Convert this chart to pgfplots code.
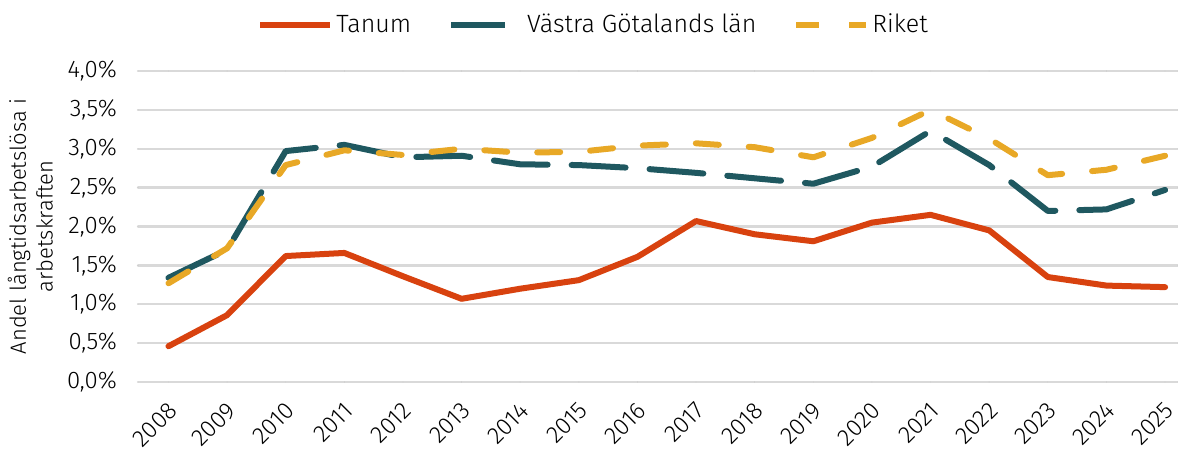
\documentclass[border=0pt]{standalone}
\usepackage{fontspec}
\setmainfont{Fira Sans Light}
\usepackage{pgfplots}
\pgfplotsset{compat=1.18}

\definecolor{tanum}{HTML}{D8420F}
\definecolor{vgl}{HTML}{1F5860}
\definecolor{riket}{HTML}{E8A826}
\definecolor{gridc}{HTML}{D9D9D9}

\begin{document}
\begin{tikzpicture}
\begin{axis}[
  scale only axis,
  width=520pt, height=155.5pt,
  xmin=2007.48, xmax=2025.22,
  ymin=0, ymax=4,
  ytick={0,0.5,...,4},
  xtick={2008,...,2025},
  axis line style={draw=none},
  major tick length=0pt,
  ymajorgrids, grid style={gridc, line width=1.2pt},
  font=\fontsize{12pt}{14pt}\selectfont,
  /pgf/number format/assume math mode=true,
  /pgf/number format/1000 sep={},
  yticklabel={\pgfmathprintnumber[fixed,fixed zerofill,precision=1,use comma]{\tick}\%},
  yticklabel style={xshift=-7pt},
  x tick label style={rotate=45, anchor=north east, inner sep=1pt, yshift=-5pt, xshift=-6pt,
    font=\fontsize{12pt}{14pt}\selectfont},
  ylabel={\shortstack{Andel långtidsarbetslösa i\\arbetskraften}},
  ylabel style={at={(axis description cs:-0.075,0.5)}, anchor=south,
    font=\fontsize{11pt}{13pt}\selectfont},
  legend style={at={(0.4385,1)}, anchor=center, yshift=23pt, draw=none,
    legend columns=3, /tikz/every even column/.append style={column sep=17pt},
    nodes={inner sep=1.5pt},
    font=\fontsize{12.5pt}{14pt}\selectfont},
  legend image code/.code={\draw[#1] (0pt,0pt) -- (35pt,0pt);},
  line cap=round, line join=round,
]
\coordinate (O) at (rel axis cs:0,0);
\addplot[tanum, line width=3pt] coordinates {
  (2008,0.46) (2009,0.86) (2010,1.62) (2011,1.66) (2012,1.36) (2013,1.07)
  (2014,1.20) (2015,1.31) (2016,1.61) (2017,2.07) (2018,1.90) (2019,1.81)
  (2020,2.05) (2021,2.15) (2022,1.95) (2023,1.35) (2024,1.24) (2025,1.22)
};
\addlegendentry{Tanum}
\addplot[vgl, line width=3pt, dash pattern=on 27pt off 12pt] coordinates {
  (2008,1.34) (2009,1.70) (2010,2.97) (2011,3.05) (2012,2.89) (2013,2.91)
  (2014,2.80) (2015,2.79) (2016,2.75) (2017,2.69) (2018,2.62) (2019,2.55)
  (2020,2.77) (2021,3.23) (2022,2.79) (2023,2.20) (2024,2.22) (2025,2.47)
};
\addlegendentry{Västra Götalands län}
\addplot[riket, line width=3pt, dash pattern=on 11.5pt off 15pt] coordinates {
  (2008,1.27) (2009,1.72) (2010,2.79) (2011,2.98) (2012,2.92) (2013,3.00)
  (2014,2.95) (2015,2.96) (2016,3.04) (2017,3.07) (2018,3.02) (2019,2.89)
  (2020,3.14) (2021,3.50) (2022,3.13) (2023,2.66) (2024,2.73) (2025,2.91)
};
\addlegendentry{Riket}
\end{axis}
\pgfresetboundingbox
\path[use as bounding box] (O) ++(-69pt,-34pt) rectangle ++(589pt,225pt);
\end{tikzpicture}
\end{document}
